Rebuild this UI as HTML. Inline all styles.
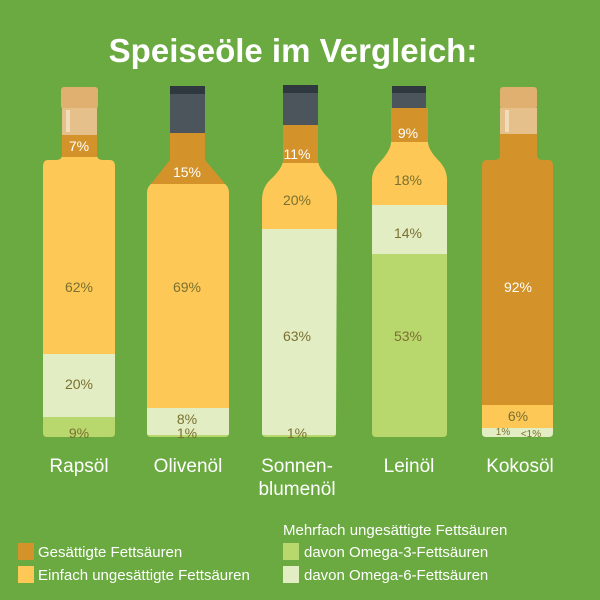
<!DOCTYPE html>
<html><head><meta charset="utf-8"><style>
body{margin:0;background:#6aaa40;}
svg{display:block}
text{font-family:"Liberation Sans",sans-serif}
</style></head><body>
<svg width="600" height="600" viewBox="0 0 600 600">
<rect width="600" height="600" fill="#6aaa40"/>
<text x="293" y="62" text-anchor="middle" font-size="33" font-weight="bold" fill="#fff">Speiseöle im Vergleich:</text>
<defs>
<clipPath id="c1"><path d="M62,108 L97,108 L97,155 Q97,160 103,160 L110,160 Q115,160 115,167 L115,433 Q115,437 111,437 L47,437 Q43,437 43,433 L43,167 Q43,160 48,160 L56,160 Q62,160 62,155 Z"/></clipPath>
<clipPath id="c2"><path d="M170,133 L205,133 L205,160 L226,185 Q229,188 229,193 L229,433 Q229,437 225,437 L151,437 Q147,437 147,433 L147,193 Q147,188 150,185 L170,160 Z"/></clipPath>
<clipPath id="c3"><path d="M283,125 L318,125 L318,160 Q318,168 330,180 Q337,188 337,200 L336,433 Q336,437 332,437 L266,437 Q262,437 262,433 L262,200 Q262,188 270,180 Q283,168 283,160 Z"/></clipPath>
<clipPath id="c4"><path d="M391,108 L428,108 L428,142 Q428,150 440,162 Q447,170 447,180 L447,433 Q447,437 443,437 L376,437 Q372,437 372,433 L372,180 Q372,170 380,162 Q391,150 391,142 Z"/></clipPath>
<clipPath id="c5"><path d="M500,108 L537,108 L537,155 Q537,160 543,160 L549,160 Q553,160 553,166 L553,433 Q553,437 549,437 L486,437 Q482,437 482,433 L482,166 Q482,160 487,160 L494,160 Q500,160 500,155 Z"/></clipPath>
</defs>
<g>
<rect x="61" y="87" width="37" height="22" rx="3" fill="#e0b070"/>
<rect x="170" y="86" width="35" height="48" fill="#4b555b"/><rect x="170" y="86" width="35" height="8" fill="#2f383f"/>
<rect x="283" y="85" width="35" height="42" fill="#4b555b"/><rect x="283" y="85" width="35" height="8" fill="#2f383f"/>
<rect x="392" y="86" width="34" height="24" fill="#4b555b"/><rect x="392" y="86" width="34" height="7" fill="#2f383f"/>
<rect x="500" y="87" width="37" height="22" rx="3" fill="#e0b070"/>
</g>
<g clip-path="url(#c1)">
<rect x="40" y="100" width="80" height="340" fill="#d4922a"/>
<rect x="40" y="157" width="80" height="197" fill="#fdc856"/>
<rect x="40" y="354" width="80" height="63" fill="#e2edc3"/>
<rect x="40" y="417" width="80" height="25" fill="#b8d76c"/>
<rect x="60" y="100" width="40" height="35" fill="#e6c08a"/>
<rect x="66" y="110" width="4" height="22" fill="#f3dcb8"/>
</g>
<g clip-path="url(#c2)">
<rect x="140" y="100" width="100" height="84" fill="#d4922a"/>
<rect x="140" y="184" width="100" height="224" fill="#fdc856"/>
<rect x="140" y="408" width="100" height="27" fill="#e2edc3"/>
<rect x="140" y="435" width="100" height="5" fill="#b8d76c"/>
</g>
<g clip-path="url(#c3)">
<rect x="255" y="100" width="90" height="63" fill="#d4922a"/>
<rect x="255" y="163" width="90" height="66" fill="#fdc856"/>
<rect x="255" y="229" width="90" height="206" fill="#e2edc3"/>
<rect x="255" y="435" width="90" height="5" fill="#b8d76c"/>
</g>
<g clip-path="url(#c4)">
<rect x="365" y="100" width="90" height="42" fill="#d4922a"/>
<rect x="365" y="142" width="90" height="63" fill="#fdc856"/>
<rect x="365" y="205" width="90" height="49" fill="#e2edc3"/>
<rect x="365" y="254" width="90" height="186" fill="#b8d76c"/>
</g>
<g clip-path="url(#c5)">
<rect x="475" y="100" width="85" height="305" fill="#d4922a"/>
<rect x="475" y="405" width="85" height="23" fill="#fdc856"/>
<rect x="475" y="428" width="85" height="12" fill="#e2edc3"/>
<rect x="498" y="100" width="42" height="34" fill="#e6c08a"/>
<rect x="505" y="110" width="4" height="22" fill="#f3dcb8"/>
</g>
<g font-size="14" text-anchor="middle">
<text x="79" y="151" fill="#fff">7%</text>
<text x="79" y="292" fill="#7a7030">62%</text>
<text x="79" y="389" fill="#7a7030">20%</text>
<text x="79" y="438" fill="#7a7030">9%</text>
<text x="187" y="177" fill="#fff">15%</text>
<text x="187" y="292" fill="#7a7030">69%</text>
<text x="187" y="424" fill="#7a7030">8%</text>
<text x="187" y="438" fill="#7a7030">1%</text>
<text x="297" y="159" fill="#fff">11%</text>
<text x="297" y="205" fill="#7a7030">20%</text>
<text x="297" y="341" fill="#7a7030">63%</text>
<text x="297" y="438" fill="#7a7030">1%</text>
<text x="408" y="138" fill="#fff">9%</text>
<text x="408" y="185" fill="#7a7030">18%</text>
<text x="408" y="238" fill="#7a7030">14%</text>
<text x="408" y="341" fill="#7a7030">53%</text>
<text x="518" y="292" fill="#fff">92%</text>
<text x="518" y="421" fill="#7a7030">6%</text>
<text x="503" y="435" font-size="10" fill="#7a7030">1%</text>
<text x="531" y="437" font-size="10" fill="#7a7030">&lt;1%</text>
</g>
<g font-size="19" fill="#fff" text-anchor="middle">
<text x="79" y="472">Rapsöl</text>
<text x="188" y="472">Olivenöl</text>
<text x="297" y="472">Sonnen-</text>
<text x="297" y="495">blumenöl</text>
<text x="409" y="472">Leinöl</text>
<text x="520" y="472">Kokosöl</text>
</g>
<g font-size="15" fill="#fff">
<rect x="18" y="543" width="16" height="17" fill="#d4922a"/>
<text x="38" y="557">Gesättigte Fettsäuren</text>
<rect x="18" y="566" width="16" height="17" fill="#fdc856"/>
<text x="38" y="580">Einfach ungesättigte Fettsäuren</text>
<text x="283" y="535">Mehrfach ungesättigte Fettsäuren</text>
<rect x="283" y="543" width="16" height="17" fill="#b8d76c"/>
<text x="304" y="557">davon Omega-3-Fettsäuren</text>
<rect x="283" y="566" width="16" height="17" fill="#e2edc3"/>
<text x="304" y="580">davon Omega-6-Fettsäuren</text>
</g>
</svg>
</body></html>
